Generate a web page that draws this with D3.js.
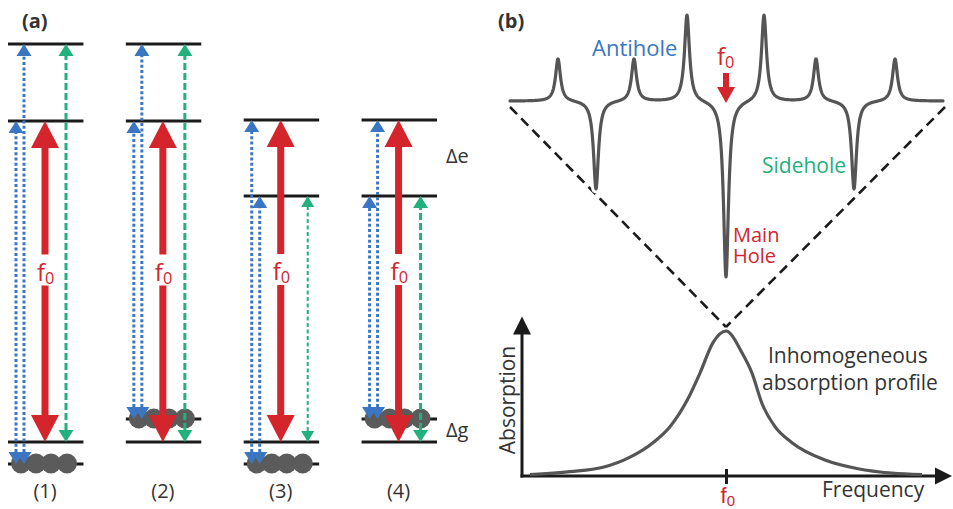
<!DOCTYPE html>
<html>
<head>
<meta charset="utf-8">
<script src="https://cdn.jsdelivr.net/npm/d3@7"></script>
<style>
  body { margin: 0; background: #fff; }
  svg { display: block; font-family: "Open Sans", "Noto Sans", sans-serif; }
</style>
</head>
<body>
<svg id="fig" width="953" height="509"></svg>
<script>
// ---------- (a) energy-level schemes ----------
const schemeLabels = ["(1)", "(2)", "(3)", "(4)"];
const groundLevels = [[0, 22], [22, 45], [0, 22], [22, 45]];           // ground-state sublevels (a.u.)
const excitedLevels = [[343, 420], [343, 420], [268, 344], [268, 344]]; // excited-state sublevels (a.u.)
const populatedLevel = [0, 45, 0, 45];                                  // sublevel holding the ions
const burnFrom = [22, 22, 22, 22];                                      // laser transition at f0
const burnTo = [343, 343, 344, 344];
const antiholeTo = [[343, 420], [343, 420], [344, 268], [268, 344]];    // transitions from the populated sublevel
const sideholeFrom = [22, 22, 22, 22];
const sideholeTo = [420, 420, 268, 268];
const ionsPerLevel = 4;

// ---------- (b) spectra ----------
const antiholeFreq = [-168, -92, -39, 38, 90, 169];
const antiholeAmp = [0.24, 0.24, 0.49, 0.49, 0.24, 0.24];
const holeFreq = [-130, 0, 128];
const holeAmp = [-0.5, -1.0, -0.5];
const homogeneousHWHM = 3;
const profileFreq = [-196, -156, -123, -96, -73, -56, -39, -26, -13, 0, 16, 26, 36, 49, 66, 99, 132, 166, 196];
const profileAbs = [0.01, 0.03, 0.06, 0.13, 0.23, 0.34, 0.52, 0.71, 0.92, 1.0, 0.85, 0.71, 0.50, 0.34, 0.23, 0.11, 0.05, 0.02, 0.01];

const C = {
  blue: "#3b76c3", green: "#22b07c", red: "#d3252b",
  ion: "#5b5b5b", level: "#1b1b1b", trace: "#555555", text: "#333333"
};

const svg = d3.select("#fig");

// ---------- helpers ----------
function tri(x, tipY, w, h, dir) {
  // dir = -1 : pointing up, +1 : pointing down
  const b = tipY - dir * h;
  return `M${x},${tipY}L${x + w / 2},${b}L${x - w / 2},${b}Z`;
}

function thinArrow(g, x, yBottom, yTop, color, dash, sw, w, h) {
  g.append("line")
    .attr("x1", x).attr("x2", x)
    .attr("y1", yBottom - h).attr("y2", yTop + h)
    .attr("stroke", color).attr("stroke-width", sw)
    .attr("stroke-dasharray", dash);
  g.append("path").attr("d", tri(x, yTop, w, h, -1)).attr("fill", color);
  g.append("path").attr("d", tri(x, yBottom, w, h, 1)).attr("fill", color);
}

function f0Label(sel, x, y, size, color, anchor, subShift) {
  const t = sel.append("text")
    .attr("x", x).attr("y", y)
    .attr("fill", color).attr("font-size", size)
    .attr("text-anchor", anchor || "start");
  t.append("tspan").text("f");
  t.append("tspan").attr("dy", subShift == null ? size * 0.14 : subShift)
    .attr("font-size", size * 0.68).text("0");
  return t;
}

// ---------- panel (a) ----------
const xBand = d3.scaleBand().domain(schemeLabels).range([8, 437]).paddingInner(0.36);
const yE = d3.scaleLinear().domain([0, 420]).range([464, 44]);
const W = xBand.bandwidth();
const ionOffsets = [13, 28, 43, 59];
const greenOffsets = [58, 59, 64, 59];

svg.append("text").attr("x", 22).attr("y", 28)
  .attr("font-size", 20).attr("font-weight", 700).attr("fill", C.text).text("(a)");

schemeLabels.forEach((lab, i) => {
  const x0 = xBand(lab);
  const g = svg.append("g");

  const levels = groundLevels[i].concat(excitedLevels[i]);
  g.selectAll("line.level").data(levels).join("line")
    .attr("class", "level")
    .attr("x1", x0).attr("x2", x0 + W)
    .attr("y1", d => yE(d)).attr("y2", d => yE(d))
    .attr("stroke", C.level).attr("stroke-width", 3);

  g.selectAll("circle").data(d3.range(ionsPerLevel)).join("circle")
    .attr("cx", k => x0 + ionOffsets[k])
    .attr("cy", yE(populatedLevel[i]) - 0.5)
    .attr("r", 10).attr("fill", C.ion);

  // transitions from the populated sublevel
  antiholeTo[i].forEach((e, k) =>
    thinArrow(g, x0 + 8 + 8 * k, yE(populatedLevel[i]), yE(e), C.blue, "3,2.3", 3, 15, 12));

  // side-hole transitions
  const thin = i === 2;
  thinArrow(g, x0 + greenOffsets[i], yE(sideholeFrom[i]), yE(sideholeTo[i]), C.green,
    thin ? "4,2.5" : "7,3", thin ? 2 : 3, thin ? 13 : 15, thin ? 11 : 12);

  // burning laser at f0
  const rx = x0 + 37;
  const yB = yE(burnFrom[i]), yT = yE(burnTo[i]);
  const hh = 27, hw = 28;
  const yMid = (yB + yT) / 2;
  const gapTop = yMid - 27, gapBot = yMid + 4;
  [[yT + hh - 1, gapTop], [gapBot, yB - hh + 1]].forEach(s => {
    g.append("line").attr("x1", rx).attr("x2", rx).attr("y1", s[0]).attr("y2", s[1])
      .attr("stroke", C.red).attr("stroke-width", 7);
  });
  g.append("path").attr("d", tri(rx, yT, hw, hh, -1)).attr("fill", C.red);
  g.append("path").attr("d", tri(rx, yB, hw, hh, 1)).attr("fill", C.red);
  f0Label(g, rx - 8, yMid - 1, 24, C.red);

  g.append("text").attr("x", x0 + 37).attr("y", 498)
    .attr("text-anchor", "middle").attr("font-size", 20).attr("fill", C.text).text(lab);
});

svg.append("text").attr("x", 446).attr("y", 163).attr("font-size", 20).attr("fill", C.text).text("Δe");
svg.append("text").attr("x", 446).attr("y", 437).attr("font-size", 20).attr("fill", C.text).text("Δg");

// ---------- panel (b) ----------
svg.append("text").attr("x", 498).attr("y", 28)
  .attr("font-size", 20).attr("font-weight", 700).attr("fill", C.text).text("(b)");

// inhomogeneous profile (lower plot)
const xb = d3.scaleLinear().domain([-204, 226]).range([522, 952]);
const yb = d3.scaleLinear().domain([0, 1]).range([476, 331]);

// hole-burning spectrum (upper plot)
const xs = d3.scaleLinear().domain([-216, 217]).range([510, 943]);
const ys = d3.scaleLinear().domain([-1, 0]).range([278, 101]);

// dashed magnification lines
const apex = [xb(0), yb(1) - 4];
const zoomLines = [[[xs.range()[0], ys(0) + 6], apex], [[xs.range()[1] + 2, ys(0) + 6], apex]];
svg.selectAll("path.zoom").data(zoomLines).join("path")
  .attr("class", "zoom")
  .attr("d", d3.line())
  .attr("fill", "none").attr("stroke", C.level)
  .attr("stroke-width", 2.6).attr("stroke-dasharray", "10,6");

const spectralLines = antiholeFreq.map((f, i) => ({ f, a: antiholeAmp[i] }))
  .concat(holeFreq.map((f, i) => ({ f, a: holeAmp[i] })));
const g2 = homogeneousHWHM * homogeneousHWHM;
const spectrum = d3.range(xs.domain()[0], xs.domain()[1] + 0.001, 0.25)
  .map(f => [f, d3.sum(spectralLines, l => l.a * g2 / ((f - l.f) * (f - l.f) + g2))]);
const specLine = d3.line().x(d => xs(d[0])).y(d => ys(d[1]));

svg.append("path").attr("d", specLine(spectrum))
  .attr("fill", "none").attr("stroke", "#fff").attr("stroke-width", 9)
  .attr("stroke-linejoin", "round");
svg.append("path").attr("d", specLine(spectrum))
  .attr("fill", "none").attr("stroke", C.trace).attr("stroke-width", 3.2)
  .attr("stroke-linejoin", "round").attr("stroke-linecap", "round");

// f0 marker above the spectrum
f0Label(svg, 717, 65, 24, C.red);
svg.append("line").attr("x1", xs(0)).attr("x2", xs(0)).attr("y1", 73).attr("y2", 89)
  .attr("stroke", C.red).attr("stroke-width", 6);
svg.append("path").attr("d", tri(xs(0), ys(0) + 2, 18, 16, 1)).attr("fill", C.red);

svg.append("text").attr("x", 592).attr("y", 56).attr("font-size", 22).attr("fill", C.blue).text("Antihole");
svg.append("text").attr("x", 762).attr("y", 173).attr("font-size", 21).attr("fill", C.green).text("Sidehole");
const mainHole = svg.append("text").attr("x", 733).attr("y", 242).attr("font-size", 20).attr("fill", C.red);
mainHole.append("tspan").attr("x", 733).text("Main");
mainHole.append("tspan").attr("x", 733).attr("dy", 21).text("Hole");

// axes of the lower plot
const axX = d3.axisBottom(xb).tickValues([0]).tickFormat("").tickSizeOuter(0).tickSizeInner(8);
const gx = svg.append("g").attr("transform", `translate(0,${yb(0)})`).call(axX);
gx.select(".domain").attr("stroke", C.level).attr("stroke-width", 3)
  .attr("d", `M${xb.range()[0] - 1.5},0H${xb.range()[1] - 12}`);
gx.selectAll(".tick line").attr("y1", -7).attr("y2", 8)
  .attr("stroke", C.level).attr("stroke-width", 3);
f0Label(gx.select(".tick"), -6, 27, 22, C.red, "start", 3);
svg.append("path").attr("d", `M${xb.range()[1]},${yb(0)}L${xb.range()[1] - 17},${yb(0) - 8.5}L${xb.range()[1] - 17},${yb(0) + 8.5}Z`)
  .attr("fill", C.level);

const tipY = yb(1.1);
const axY = d3.axisLeft(yb).tickValues([]).tickSizeOuter(0);
const gy = svg.append("g").attr("transform", `translate(${xb.range()[0]},0)`).call(axY);
gy.select(".domain").attr("stroke", C.level).attr("stroke-width", 3)
  .attr("d", `M0,${yb(0) + 1.5}V${tipY + 12}`);
svg.append("path").attr("d", tri(xb.range()[0], tipY, 18, 18, -1)).attr("fill", C.level);

// inhomogeneous absorption profile
const profile = profileFreq.map((f, i) => [f, profileAbs[i]]);
svg.append("path")
  .attr("d", d3.line().x(d => xb(d[0])).y(d => yb(d[1])).curve(d3.curveMonotoneX)(profile))
  .attr("fill", "none").attr("stroke", C.trace).attr("stroke-width", 3.2);

const halo = sel => sel.attr("stroke", "#fff").attr("stroke-width", 5)
  .attr("paint-order", "stroke").attr("stroke-linejoin", "round");
svg.append("text").attr("x", 768).attr("y", 363).attr("font-size", 21).attr("fill", C.text)
  .text("Inhomogeneous").call(halo);
svg.append("text").attr("x", 762).attr("y", 390).attr("font-size", 21).attr("fill", C.text)
  .text("absorption profile").call(halo);

svg.append("text").attr("x", 822).attr("y", 497).attr("font-size", 21).attr("fill", C.text).text("Frequency");
svg.append("text").attr("transform", `translate(515,400) rotate(-90)`)
  .attr("text-anchor", "middle").attr("font-size", 21).attr("fill", C.text).text("Absorption");
</script>
</body>
</html>
